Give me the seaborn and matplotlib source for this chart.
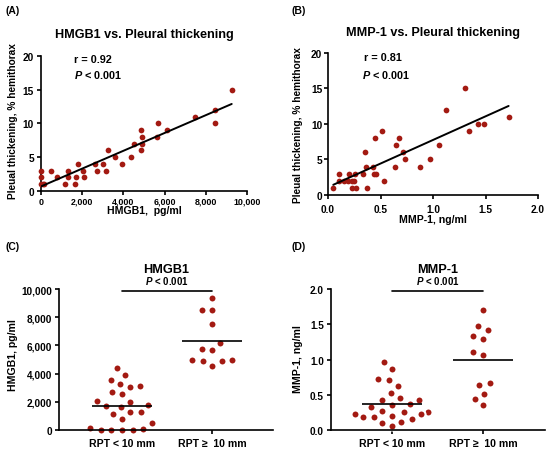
import numpy as np
import pandas as pd
import matplotlib
matplotlib.use("Agg")
import matplotlib.pyplot as plt
import seaborn as sns
from matplotlib.ticker import StrMethodFormatter, MultipleLocator

# ---------------- data ----------------
# (A) HMGB1 vs pleural thickening
hmgb1_pg_ml = [0, 0, 0, 80, 170, 490, 800, 1180, 1300, 1300, 1640, 1690, 1800, 2020,
               2080, 2610, 2740, 3030, 3150, 3250, 3570, 3920, 4350, 4500, 4870, 4890,
               4890, 4870, 5650, 5700, 6100, 7480, 8450, 8450, 9260]
thick_a = [3, 2, 1, 1, 1, 3, 2, 1, 2, 3, 1, 2, 4, 3, 2, 4, 3, 4, 3, 6, 5, 4, 5, 7,
           6, 7, 8, 9, 8, 10, 9, 11, 12, 10, 15]

# (B) MMP-1 vs pleural thickening
mmp1_ng_ml = [0.05, 0.10, 0.105, 0.15, 0.19, 0.20, 0.23, 0.23, 0.245, 0.26, 0.27, 0.33,
              0.35, 0.365, 0.375, 0.43, 0.44, 0.45, 0.455, 0.51, 0.53, 0.635, 0.645,
              0.675, 0.71, 0.73, 0.875, 0.975, 1.055, 1.12, 1.30, 1.34, 1.43, 1.49, 1.72]
thick_b = [1, 3, 2, 2, 2, 3, 2, 1, 2, 3, 1, 3, 6, 4, 1, 4, 3, 8, 3, 9, 2, 4, 7, 8, 6,
           5, 4, 5, 7, 12, 15, 9, 10, 10, 11]

# (C) / (D) by group
groups = ["RPT < 10 mm", "RPT \u2265  10 mm"]
hmgb1_low = [4370, 3900, 3570, 3260, 3140, 3030, 2720, 2550, 2080, 2010, 1800, 1680,
             1610, 1300, 1250, 1140, 780, 500, 140, 70, 0, 0, 0, 0]
hmgb1_high = [9400, 8550, 8550, 7550, 6180, 5770, 5700, 4940, 4940, 4870, 4870, 4540]
mmp1_low = [0.97, 0.87, 0.72, 0.71, 0.63, 0.52, 0.45, 0.43, 0.43, 0.37, 0.36, 0.33,
            0.27, 0.25, 0.25, 0.23, 0.23, 0.20, 0.19, 0.19, 0.15, 0.11, 0.10, 0.05]
mmp1_high = [1.71, 1.48, 1.42, 1.33, 1.29, 1.11, 1.06, 0.67, 0.64, 0.51, 0.44, 0.35]

stats_a = ["r = 0.92", "$P$ < 0.001"]
stats_b = ["r = 0.81", "$P$ < 0.001"]
p_text = "$P$ < 0.001"
sig_y_c = 9860
sig_y_d = 1.97

# ---------------- style ----------------
sns.set_style("ticks")
plt.rcParams['font.family'] = ['Liberation Sans', 'DejaVu Sans']
plt.rcParams['font.weight'] = 'bold'
plt.rcParams['axes.labelweight'] = 'bold'
plt.rcParams['axes.titleweight'] = 'bold'
plt.rcParams['axes.linewidth'] = 1.2
plt.rcParams['axes.edgecolor'] = 'black'
plt.rcParams['xtick.color'] = 'black'
plt.rcParams['ytick.color'] = 'black'
plt.rcParams['text.color'] = 'black'
plt.rcParams['axes.labelcolor'] = 'black'
plt.rcParams['mathtext.fontset'] = 'custom'
plt.rcParams['mathtext.it'] = 'Liberation Sans:italic:bold'
plt.rcParams['mathtext.rm'] = 'Liberation Sans:bold'

RED = '#a31a12'
fig = plt.figure(figsize=(5.5, 4.56), dpi=100)
axA = fig.add_axes([0.0745, 0.579, 0.3745, 0.296])
axB = fig.add_axes([0.5964, 0.5702, 0.3818, 0.3114])
axC = fig.add_axes([0.1073, 0.0548, 0.389, 0.309])
axD = fig.add_axes([0.6018, 0.0548, 0.389, 0.309])

for ax in (axA, axB, axC, axD):
    sns.despine(ax=ax)
    ax.tick_params(length=3, width=1.2, direction='out')

# ---------------- (A) ----------------
dfA = pd.DataFrame({"x": hmgb1_pg_ml, "y": thick_a})
sns.regplot(data=dfA, x="x", y="y", ax=axA, ci=None, color=RED,
            scatter_kws=dict(s=17, alpha=1, linewidths=0, clip_on=False, zorder=3),
            line_kws=dict(color='black', lw=1.4, zorder=4))
axA.set_xlim(0, 10000)
axA.set_ylim(0, 20)
axA.xaxis.set_major_locator(MultipleLocator(2000))
axA.yaxis.set_major_locator(MultipleLocator(5))
axA.xaxis.set_major_formatter(StrMethodFormatter('{x:,.0f}'))
axA.tick_params(axis='x', labelsize=6.4, pad=1.0)
axA.tick_params(axis='y', labelsize=7.3, pad=2.0)
axA.set_xlabel("HMGB1,  pg/ml", fontsize=7.6, va='top')
axA.set_ylabel("Pleual thickening, % hemithorax", fontsize=7.3)
axA.xaxis.set_label_coords(0.5, -0.104)
axA.yaxis.set_label_coords(-0.110, 0.527)
axA.set_title("HMGB1 vs. Pleural thickening", fontsize=9.1, pad=13.5)
axA.text(1620, 19.5, stats_a[0], fontsize=7.8, va='center', ha='left')
axA.text(1620, 17.3, stats_a[1], fontsize=7.8, va='center', ha='left')

# ---------------- (B) ----------------
dfB = pd.DataFrame({"x": mmp1_ng_ml, "y": thick_b})
sns.regplot(data=dfB, x="x", y="y", ax=axB, ci=None, color=RED,
            scatter_kws=dict(s=17, alpha=1, linewidths=0, clip_on=False, zorder=3),
            line_kws=dict(color='black', lw=1.4, zorder=4))
axB.set_xlim(0, 2.0)
axB.set_ylim(0, 20)
axB.xaxis.set_major_locator(MultipleLocator(0.5))
axB.yaxis.set_major_locator(MultipleLocator(5))
axB.xaxis.set_major_formatter(StrMethodFormatter('{x:.1f}'))
axB.tick_params(axis='x', labelsize=7.3, pad=3.2)
axB.tick_params(axis='y', labelsize=7.3, pad=1.2)
axB.set_xlabel("MMP-1, ng/ml", fontsize=7.6, va='top')
axB.set_ylabel("Pleual thickening, % hemithorax", fontsize=7.3)
axB.xaxis.set_label_coords(0.5, -0.137)
axB.yaxis.set_label_coords(-0.118, 0.5)
axB.set_title("MMP-1 vs. Pleural thickening", fontsize=9.1, pad=13.0)
axB.text(0.34, 19.4, stats_b[0], fontsize=7.8, va='center', ha='left')
axB.text(0.32, 17.1, stats_b[1], fontsize=7.8, va='center', ha='left')


# ---------------- (C) / (D) ----------------
def group_panel(ax, low, high, sig_y, title, ylabel, ymax, step, fmt):
    df = pd.DataFrame({"group": [groups[0]] * len(low) + [groups[1]] * len(high),
                       "value": list(low) + list(high)})
    sns.swarmplot(data=df, x="group", y="value", order=groups, ax=ax, color=RED,
                  size=5.8, edgecolor='white', linewidth=1.5, clip_on=False, zorder=1)
    for i, vals in enumerate([low, high]):
        ax.hlines(np.mean(vals), i - 0.33, i + 0.33, color='black', lw=1.2, zorder=3)
    ax.plot([0, 1], [sig_y, sig_y], color='black', lw=1.2, clip_on=False, zorder=3)
    ax.text(0.5, 1.033, p_text, transform=ax.get_xaxis_transform(), ha='center',
            va='baseline', fontsize=7.0)
    ax.set_ylim(0, ymax)
    ax.yaxis.set_major_locator(MultipleLocator(step))
    ax.yaxis.set_major_formatter(StrMethodFormatter(fmt))
    ax.set_xlabel("")
    ax.set_ylabel(ylabel, fontsize=7.6)
    ax.set_title(title, fontsize=9.2, pad=12.2)
    ax.tick_params(axis='x', labelsize=7.6, pad=3.0, length=3)
    ax.tick_params(axis='y', labelsize=7.2, pad=2.0)


group_panel(axC, hmgb1_low, hmgb1_high, sig_y_c, "HMGB1", "HMGB1, pg/ml", 10000, 2000,
            '{x:,.0f}')
axC.set_xlim(-0.695, 1.67)
axC.yaxis.set_label_coords(-0.19, 0.54)

group_panel(axD, mmp1_low, mmp1_high, sig_y_d, "MMP-1", "MMP-1, ng/ml", 2.0, 0.5,
            '{x:.1f}')
axD.set_xlim(-0.667, 1.68)
axD.yaxis.set_label_coords(-0.129, 0.51)

# panel letters
for txt, x, y in [("(A)", 5, 14.5), ("(B)", 292, 14.5), ("(C)", 5, 249.7),
                  ("(D)", 291.7, 249.7)]:
    fig.text(x / 550, 1 - y / 456, txt, fontsize=7.5, fontweight='bold',
             ha='left', va='baseline')

fig.savefig("out.png", dpi=100)
